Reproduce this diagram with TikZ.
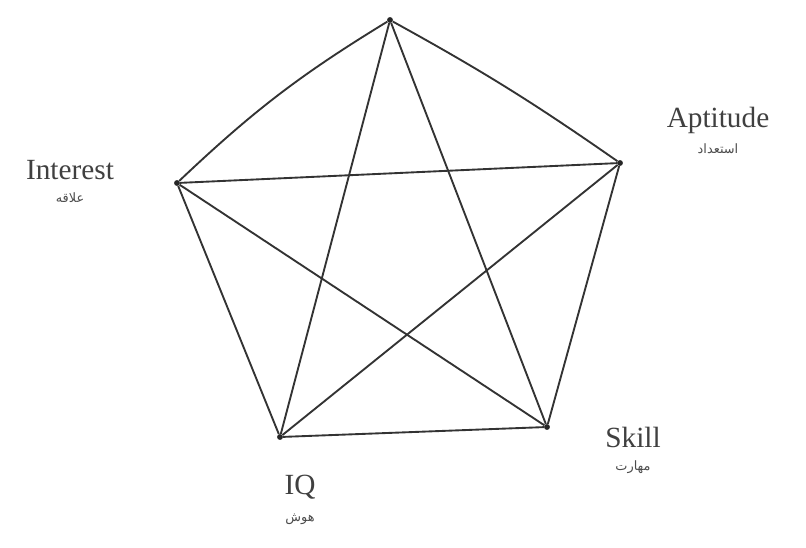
\documentclass[tikz,border=0pt]{standalone}
\usepackage{fontspec}
\setmainfont{Liberation Serif}
\newfontfamily\arabicfont[Script=Arabic]{DejaVu Sans}
\TeXXeTstate=1
\usetikzlibrary{positioning}

\begin{document}
\begin{tikzpicture}[
  x=0.03cm, y=-0.03cm,
  vert/.style={circle, fill=black!85, inner sep=0pt, minimum size=5pt},
  edge/.style={draw=black!80, line width=1.6pt, line join=round},
  lbl/.style={font=\fontsize{25}{30}\selectfont, text=black!75},
  fa/.style={font=\arabicfont\fontsize{11}{14}\selectfont, text=black!70}
]
\useasboundingbox (0,0) rectangle (806,547);

\node[vert] (top) at (390,20) {};
\node[vert] (apt) at (620,163) {};
\node[vert] (skl) at (547,427) {};
\node[vert] (iq)  at (280,437) {};
\node[vert] (int) at (177,183) {};

% pentagon
\draw[edge] (top) to[bend left=3] (apt);
\draw[edge] (apt) -- (skl);
\draw[edge] (skl) -- (iq);
\draw[edge] (iq) -- (int);
\draw[edge] (int) to[bend left=6] (top);

% star
\draw[edge] (top) -- (iq);
\draw[edge] (top) -- (skl);
\draw[edge] (int) -- (apt);
\draw[edge] (int) -- (skl);
\draw[edge] (iq) -- (apt);

\node[lbl] (aptL) at (718,120) {Aptitude};
\node[fa, below=2pt of aptL] (aptF) {\beginR استعداد\endR};
\node[lbl] (intL) at (70,170) {Interest};
\node[fa, below=4pt of intL] (intF) {\beginR علاقه\endR};
\node[lbl] (sklL) at (633,437) {Skill};
\node[fa, below=4pt of sklL] (sklF) {\beginR مهارت\endR};
\node[lbl] (iqL) at (300,487) {IQ};
\node[fa, below=6pt of iqL] (iqF) {\beginR هوش\endR};

\end{tikzpicture}
\end{document}
